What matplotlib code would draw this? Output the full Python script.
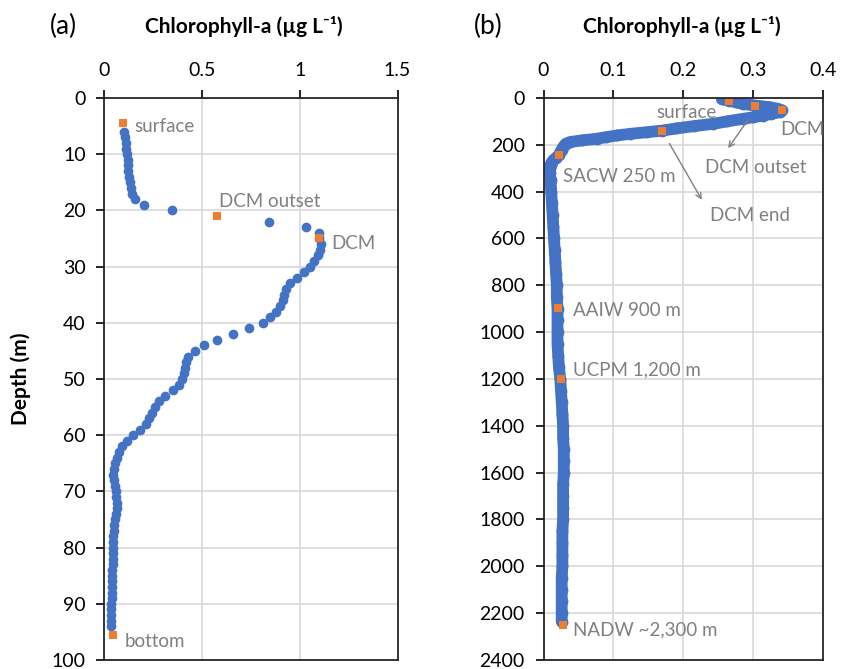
import matplotlib.pyplot as plt
import matplotlib as mpl

mpl.rcParams['font.family'] = ['Lato', 'DejaVu Sans']

# panel (a): shallow station, depth (m) and chlorophyll-a (ug/L)
a_depth = [6, 7, 8, 9, 10, 11, 12, 13, 14, 15, 16, 17, 18, 19, 20,
           22, 23, 24, 25, 26, 27, 28, 29, 30, 31, 32, 33, 34, 35, 36,
           37, 38, 39, 40, 41, 42, 43, 44, 45, 46, 47, 48, 49, 50, 51,
           52, 53, 54, 55, 56, 57, 58, 59, 60, 61, 62, 63, 64, 65, 66,
           67, 68, 69, 70, 71, 72, 73, 74, 75, 76, 77, 78, 79, 80, 81,
           82, 83, 84, 85, 86, 87, 88, 89, 90, 91, 92, 93, 94]
a_chl = [0.10, 0.105, 0.11, 0.112, 0.115, 0.118, 0.12, 0.122, 0.125, 0.13,
         0.135, 0.14, 0.155, 0.204, 0.346,
         0.844, 1.03, 1.097, 1.10, 1.107, 1.105, 1.095, 1.07, 1.05, 1.02,
         0.985, 0.95, 0.93, 0.918, 0.915,
         0.90, 0.88, 0.845, 0.81, 0.74, 0.656, 0.574, 0.511, 0.463, 0.43,
         0.418, 0.41, 0.405, 0.395, 0.38,
         0.35, 0.31, 0.28, 0.26, 0.245, 0.23, 0.21, 0.18, 0.148, 0.115,
         0.09, 0.072, 0.062, 0.055, 0.05,
         0.045, 0.048, 0.055, 0.058, 0.06, 0.062, 0.062, 0.06, 0.055, 0.05,
         0.048, 0.045, 0.043, 0.042, 0.042,
         0.042, 0.041, 0.04, 0.039, 0.038, 0.037, 0.037, 0.036, 0.035,
         0.034, 0.033, 0.032, 0.032]
a_key_labels = ['surface', 'DCM outset', 'DCM', 'bottom']
a_key_depth = [4.5, 21, 25, 95.5]
a_key_chl = [0.093, 0.578, 1.10, 0.045]

# panel (b): deep station
b_depth = [5, 11, 18, 25, 32, 39, 46, 53, 60, 68, 75, 82, 89, 100, 110,
           120, 130, 139, 146, 153, 160, 167, 174, 181, 188, 195, 202, 210,
           220, 230, 242, 255, 265, 274, 285, 300, 320, 350, 400, 450, 500,
           550, 600, 650, 700, 750, 800, 850, 900, 950, 1000, 1050, 1100,
           1150, 1200, 1250, 1300, 1350, 1400, 1450, 1500, 1550, 1600, 1650,
           1700, 1750, 1800, 1850, 1900, 1950, 2000, 2050, 2100, 2150, 2200,
           2236]
b_chl = [0.255, 0.265, 0.275, 0.285, 0.302, 0.323, 0.335, 0.341, 0.338,
         0.325, 0.314, 0.300, 0.285, 0.262, 0.243,
         0.215, 0.19, 0.170, 0.148, 0.124, 0.105, 0.09, 0.076, 0.055, 0.038,
         0.032, 0.030, 0.028,
         0.026, 0.024, 0.0226, 0.018, 0.014, 0.0117, 0.010, 0.009, 0.009,
         0.010, 0.011, 0.012, 0.013,
         0.014, 0.015, 0.016, 0.017, 0.018, 0.019, 0.019, 0.020, 0.020,
         0.020, 0.020, 0.021,
         0.022, 0.024, 0.025, 0.026, 0.027, 0.028, 0.028, 0.029, 0.029,
         0.029, 0.028,
         0.028, 0.028, 0.028, 0.027, 0.027, 0.027, 0.027, 0.026, 0.026,
         0.026, 0.026,
         0.026]
b_key_labels = ['surface', 'DCM outset', 'DCM', 'DCM end', 'SACW 250 m',
                'AAIW 900 m', 'UCPM 1,200 m', 'NADW ~2,300 m']
b_key_depth = [11, 32, 53, 139, 242, 896, 1200, 2250]
b_key_chl = [0.265, 0.302, 0.341, 0.170, 0.0226, 0.020, 0.0246, 0.0274]

blue = '#4472C4'
orange = '#ED7D31'
grey = '#808080'

fig = plt.figure(figsize=(8.42, 6.69), dpi=100)
ax1 = fig.add_axes([0.1241, 0.0135, 0.348, 0.840])
ax2 = fig.add_axes([0.6455, 0.0135, 0.3323, 0.840])

for ax in (ax1, ax2):
    ax.xaxis.tick_top()
    ax.tick_params(axis='both', labelsize=14, direction='out', length=5.5,
                   width=1.2, pad=8, colors='black')
    ax.grid(True, color='#d9d9d9', linewidth=1.2)
    ax.set_axisbelow(True)
    for s in ax.spines.values():
        s.set_linewidth(1.3)
        s.set_color('#262626')

# (a)
ax1.plot(a_chl, a_depth, 'o', color=blue, markersize=7, markeredgewidth=0)
ax1.plot(a_key_chl, a_key_depth, 's', color=orange, markersize=5.5,
         markeredgewidth=0)
ax1.set_xlim(0, 1.5)
ax1.set_ylim(100, 0)
ax1.set_xticks([0, 0.5, 1, 1.5])
ax1.set_xticklabels(['0', '0.5', '1', '1.5'])
ax1.set_yticks(range(0, 101, 10))
ax1.set_ylabel('Depth (m)', fontsize=15, fontweight='bold', labelpad=15)

a_text_pos = [(0.153, 5.1), (0.588, 18.5), (1.161, 25.9), (0.103, 96.7)]
for lab, (tx, ty) in zip(a_key_labels, a_text_pos):
    ax1.text(tx, ty, lab, color=grey, fontsize=13.5, va='center', ha='left')

# (b)
ax2.plot(b_chl, b_depth, '-', color=blue, linewidth=8.5,
         solid_capstyle='round', solid_joinstyle='round')
ax2.plot(b_chl, b_depth, 'o', color=blue, markersize=8.5, markeredgewidth=0)
ax2.plot(b_key_chl, b_key_depth, 's', color=orange, markersize=5.5,
         markeredgewidth=0)
ax2.set_xlim(0, 0.4)
ax2.set_ylim(2400, 0)
ax2.set_xticks([0, 0.1, 0.2, 0.3, 0.4])
ax2.set_xticklabels(['0', '0.1', '0.2', '0.3', '0.4'])
ax2.set_yticks(range(0, 2401, 200))

b_text = [('surface', 0.205, 61, 'center'),
          ('DCM outset', 0.3036, 295, 'center'),
          ('DCM', 0.338, 136, 'left'),
          ('DCM end', 0.295, 501, 'center'),
          ('SACW 250 m', 0.0279, 334, 'left'),
          ('AAIW 900 m', 0.0426, 907, 'left'),
          ('UCPM 1,200 m', 0.0426, 1160, 'left'),
          ('NADW ~2,300 m', 0.042, 2272, 'left')]
for lab, tx, ty, ha in b_text:
    ax2.text(tx, ty, lab, color=grey, fontsize=13.5, va='center', ha=ha)

ax2.annotate('', xy=(0.2617, 224), xytext=(0.295, 82),
             arrowprops=dict(arrowstyle='->', color=grey, lw=1.0))
ax2.annotate('', xy=(0.2283, 445), xytext=(0.178, 184),
             arrowprops=dict(arrowstyle='->', color=grey, lw=1.0))

# panel letters and axis titles
title = 'Chlorophyll-a (µg L⁻¹)'
fig.text(0.290, 0.961, title, fontsize=15, fontweight='bold',
         ha='center', va='center')
fig.text(0.810, 0.961, title, fontsize=15, fontweight='bold',
         ha='center', va='center')
fig.text(0.059, 0.961, '(a)', fontsize=19, ha='left', va='center')
fig.text(0.563, 0.961, '(b)', fontsize=19, ha='left', va='center')

fig.savefig('out.png', dpi=100)
